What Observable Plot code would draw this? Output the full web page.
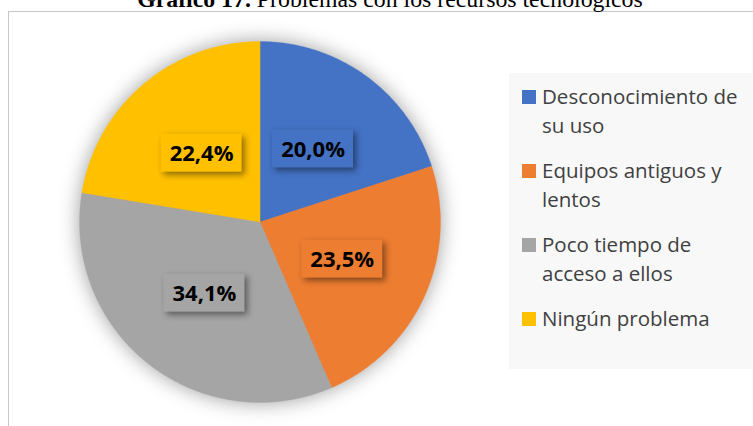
<!DOCTYPE html>
<html><head><meta charset="utf-8">
<script src="https://cdn.jsdelivr.net/npm/d3@7"></script>
<script src="https://cdn.jsdelivr.net/npm/@observablehq/plot@0.6"></script>
<style>
body{margin:0;background:#fff;width:753px;height:426px;overflow:hidden;position:relative;font-family:"Open Sans",sans-serif}
#title{position:absolute;left:0;width:780px;top:-13.1px;text-align:center;font-family:"Liberation Serif","Times New Roman",serif;font-size:23.8px;line-height:24px;color:#000;white-space:nowrap}
#frame{position:absolute;left:8px;top:11px;width:820px;height:520px;border:1.7px solid #c8c8c8;box-sizing:border-box}
#chart{position:absolute;left:0;top:0}
#legend{position:absolute;left:509px;top:73px;width:243px;height:296px;background:#f8f8f8}
.item{position:absolute;left:0;width:243px;height:60px}
.sw{position:absolute;left:13px;width:14px;height:14px}
.lt{position:absolute;left:33px;top:0;width:208px;font-size:20.5px;line-height:29px;color:#404040}
</style></head>
<body>
<div id="frame"></div>
<div id="title"><b>Gráfico 17.</b> Problemas con los recursos tecnológicos</div>
<div id="chart"></div>
<div id="legend"></div>
<script>
const categories = ["Desconocimiento de su uso", "Equipos antiguos y lentos", "Poco tiempo de acceso a ellos", "Ningún problema"];
const values = [20.0, 23.5, 34.1, 22.4];
const valueLabels = ["20,0%", "23,5%", "34,1%", "22,4%"];
const colors = ["#4472C4", "#ED7D31", "#A5A5A5", "#FFC000"];

const rows = categories.map((c, i) => ({cat: c, value: values[i], label: valueLabels[i]}));
const arcs = d3.pie().sort(null).value(d => d.value)(rows);

// polygon outline of each slice, in unit-circle coordinates (y up)
const pts = [];
for (const a of arcs) {
  pts.push({cat: a.data.cat, x: 0, y: 0});
  const n = Math.max(2, Math.ceil((a.endAngle - a.startAngle) / (Math.PI / 360)));
  for (let k = 0; k <= n; k++) {
    const t = a.startAngle + (a.endAngle - a.startAngle) * k / n;
    pts.push({cat: a.data.cat, x: Math.sin(t), y: Math.cos(t)});
  }
}
const R = 180.5; // pixel radius
const lab = arcs.map(a => {
  const m = (a.startAngle + a.endAngle) / 2;
  return {cat: a.data.cat, label: a.data.label, x: 0.5 * Math.sin(m), y: 0.5 * Math.cos(m)};
});
const bw = 81 / R / 2, bh = 38 / R / 2;

const plot = Plot.plot({
  width: 753, height: 426,
  margin: 0,
  style: {background: "transparent", overflow: "visible"},
  x: {domain: [-1, 1], range: [259.5 - R, 259.5 + R], axis: null},
  y: {domain: [-1, 1], range: [221.5 + R, 221.5 - R], axis: null},
  color: {domain: categories, range: colors},
  marks: [
    Plot.line(pts, {x: "x", y: "y", z: "cat", fill: "cat", stroke: "cat", strokeWidth: 0.3, curve: "linear-closed"}),
    Plot.rect(lab, {x1: d => d.x - bw, x2: d => d.x + bw, y1: d => d.y - bh, y2: d => d.y + bh, fill: "cat"}),
    Plot.text(lab, {x: "x", y: "y", text: "label", fill: "#000", fontWeight: "bold", fontSize: 22, fontFamily: "Open Sans", dy: 1})
  ]
});
document.getElementById("chart").appendChild(plot);
const gs = plot.querySelectorAll("g[aria-label]");
gs.forEach(g => {
  const l = g.getAttribute("aria-label");
  if (l === "line") g.style.filter = "drop-shadow(0px 0px 10px rgba(0,0,0,0.38))";
  if (l === "rect") g.style.filter = "drop-shadow(3px 3px 3px rgba(0,0,0,0.45))";
});

// legend
const leg = document.getElementById("legend");
categories.forEach((c, i) => {
  const it = document.createElement("div");
  it.className = "item";
  it.style.top = (8.5 + i * 74.3) + "px";
  const sw = document.createElement("div");
  sw.className = "sw";
  sw.style.background = colors[i];
  sw.style.top = "8px";
  const t = document.createElement("div");
  t.className = "lt";
  t.textContent = c;
  it.appendChild(sw); it.appendChild(t);
  leg.appendChild(it);
});
</script>
</body></html>
